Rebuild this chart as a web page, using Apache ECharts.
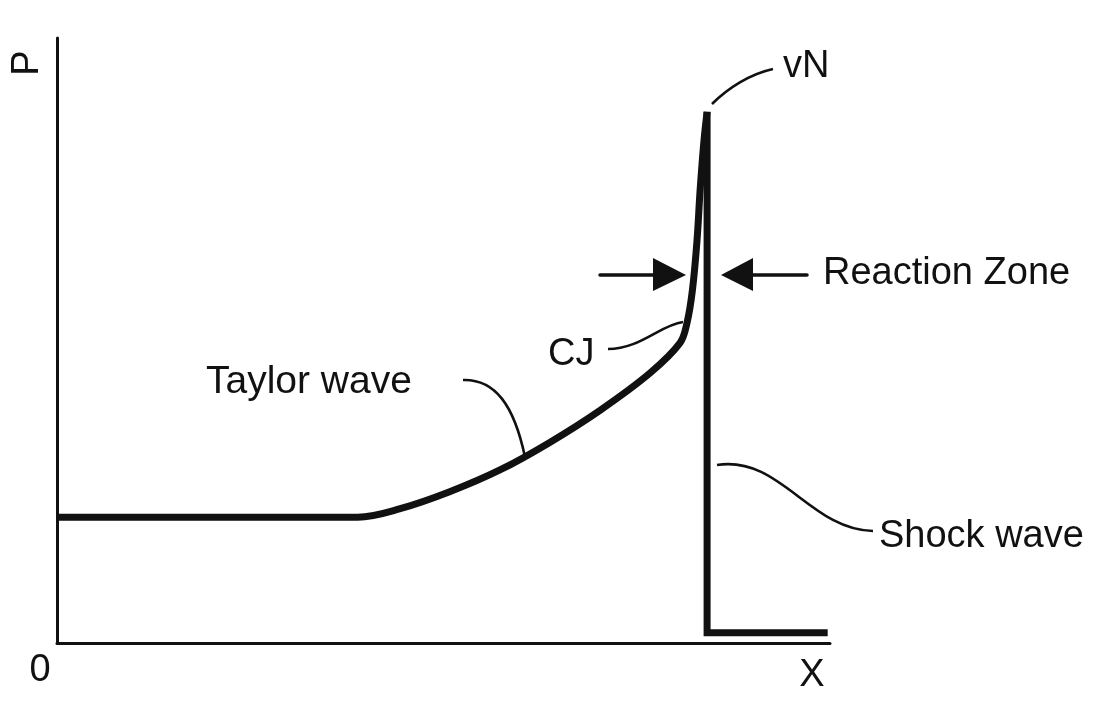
<!DOCTYPE html>
<html>
<head>
<meta charset="utf-8">
<script src="https://cdn.jsdelivr.net/npm/echarts@6/dist/echarts.min.js"></script>
<style>
  html, body { margin: 0; padding: 0; background: #fff; }
  #chart { width: 1106px; height: 703px; }
</style>
</head>
<body>
<div id="chart"></div>
<script>
// pressure profile, x and P in 0..100 plot units
const taylorX = [0, 38.9, 44.4, 50.8, 57.3, 63.8, 70.3, 76.7, 80.6, 81.5, 82.2, 82.8, 83.2, 83.7, 84.1];
const taylorP = [20.8, 20.8, 22.2, 25.0, 28.6, 33.2, 38.5, 44.6, 49.6, 52.9, 58.3, 66.6, 74.9, 83.1, 87.8];
const shockX = [84.1, 84.1, 99.7];
const shockP = [87.8, 1.7, 1.7];

const ink = "#111";
const font = "Liberation Sans, Arial, sans-serif";

const chart = echarts.init(document.getElementById("chart"));

const label = (text, x, y, align, size) => ({
  type: "text",
  x: x,
  y: y,
  style: {
    text: text,
    font: (size || 38) + "px " + font,
    fill: ink,
    align: align || "left",
    verticalAlign: "middle",
  },
});

const leader = (x1, y1, cpx1, cpy1, cpx2, cpy2, x2, y2) => ({
  type: "bezierCurve",
  shape: { x1, y1, cpx1, cpy1, cpx2, cpy2, x2, y2 },
  style: { stroke: ink, lineWidth: 2.6, fill: null },
});

chart.setOption({
  animation: false,
  grid: { left: 57, right: 276, top: 38, bottom: 60 },
  xAxis: {
    type: "value",
    min: 0,
    max: 100,
    axisLine: { lineStyle: { color: ink, width: 3 } },
    axisTick: { show: false },
    axisLabel: { show: false },
    splitLine: { show: false },
  },
  yAxis: {
    type: "value",
    min: 0,
    max: 100,
    axisLine: { show: true, lineStyle: { color: ink, width: 3 } },
    axisTick: { show: false },
    axisLabel: { show: false },
    splitLine: { show: false },
  },
  series: [
    {
      type: "line",
      data: taylorX.map((x, i) => [x, taylorP[i]]),
      showSymbol: false,
      smooth: 0.35,
      clip: false,
      lineStyle: { color: ink, width: 7, cap: "butt", join: "round" },
    },
    {
      type: "line",
      data: shockX.map((x, i) => [x, shockP[i]]),
      showSymbol: false,
      clip: false,
      lineStyle: { color: ink, width: 7, cap: "butt", join: "miter" },
    },
  ],
  graphic: [
    // axis letters
    { ...label("P", 28, 63, "center"), rotation: Math.PI / 2 },
    label("0", 40, 671, "center"),
    label("X", 812, 676, "center"),
    // annotations
    label("vN", 783, 67),
    label("Reaction Zone", 823, 274),
    label("CJ", 548, 355),
    label("Taylor wave", 206, 382, "left", 39),
    label("Shock wave", 879, 537),
    leader(712, 104, 728, 88, 750, 74, 773, 69),
    leader(608, 349, 640, 349, 660, 325, 683, 322),
    leader(463, 380, 495, 379, 514, 405, 525, 457),
    leader(717, 465, 780, 455, 810, 530, 873, 531),
    // reaction zone arrows
    {
      type: "line",
      shape: { x1: 600, y1: 275, x2: 656, y2: 275 },
      style: { stroke: ink, lineWidth: 3.5, lineCap: "round" },
    },
    {
      type: "polygon",
      shape: { points: [[653, 258], [686, 275], [653, 291]] },
      style: { fill: ink },
    },
    {
      type: "line",
      shape: { x1: 750, y1: 275, x2: 807, y2: 275 },
      style: { stroke: ink, lineWidth: 3.5, lineCap: "round" },
    },
    {
      type: "polygon",
      shape: { points: [[753, 258], [721, 275], [753, 291]] },
      style: { fill: ink },
    },
  ],
});
</script>
</body>
</html>
